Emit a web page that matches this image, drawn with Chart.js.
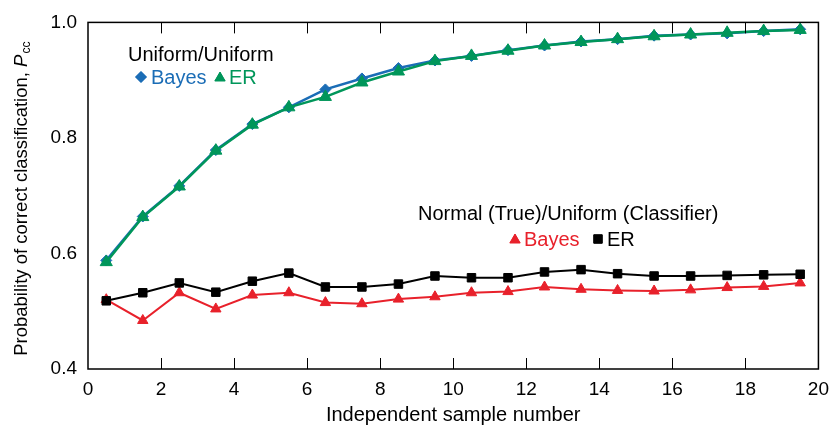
<!DOCTYPE html>
<html>
<head>
<meta charset="utf-8">
<script src="https://cdn.jsdelivr.net/npm/chart.js@4.4.0/dist/chart.umd.min.js"></script>
<style>
  html, body { margin: 0; padding: 0; background: #fff; }
  #wrap { width: 838px; height: 427px; }
</style>
</head>
<body>
<div id="wrap"><canvas id="pccChart" width="838" height="427"></canvas></div>
<script>
// sample positions and values
var samples = [0.5, 1.5, 2.5, 3.5, 4.5, 5.5, 6.5, 7.5, 8.5, 9.5, 10.5, 11.5, 12.5, 13.5, 14.5, 15.5, 16.5, 17.5, 18.5, 19.5];
var uniBayes = [0.588, 0.664, 0.717, 0.779, 0.824, 0.853, 0.884, 0.903, 0.921, 0.934, 0.942, 0.952, 0.960, 0.967, 0.971, 0.977, 0.979, 0.981, 0.985, 0.988];
var uniER = [0.585, 0.663, 0.716, 0.778, 0.823, 0.853, 0.871, 0.896, 0.915, 0.933, 0.942, 0.951, 0.960, 0.966, 0.971, 0.976, 0.979, 0.982, 0.985, 0.987];
var normBayes = [0.520, 0.484, 0.532, 0.504, 0.528, 0.532, 0.515, 0.513, 0.521, 0.525, 0.532, 0.534, 0.542, 0.538, 0.536, 0.535, 0.537, 0.541, 0.543, 0.549];
var normER = [0.518, 0.532, 0.549, 0.533, 0.552, 0.566, 0.542, 0.542, 0.547, 0.561, 0.558, 0.558, 0.568, 0.572, 0.565, 0.561, 0.561, 0.562, 0.563, 0.564];
var xTicks = [0, 2, 4, 6, 8, 10, 12, 14, 16, 18, 20];
var yTicks = [0.4, 0.6, 0.8, 1.0];

var BLUE = '#1b6db6', GREEN = '#00965a', RED = '#e8212b', BLACK = '#000';
var FONT = '"Liberation Sans", Arial, Helvetica, sans-serif';

function pts(ys) {
    return samples.map(function (x, i) { return {x: x, y: ys[i]}; });
}

// frame, inward ticks, y title and the two text legends
var decor = {
    id: 'decor',
    afterDraw: function (chart) {
        var ctx = chart.ctx, a = chart.chartArea;
        var xs = chart.scales.x;
        ctx.save();
        ctx.strokeStyle = '#000';
        ctx.lineWidth = 1.5;
        ctx.strokeRect(a.left, a.top, a.right - a.left, a.bottom - a.top);
        ctx.lineWidth = 1;
        xTicks.forEach(function (t) {
            if (t === 0 || t === 20) return;
            var px = Math.round(xs.getPixelForValue(t)) + 0.5;
            ctx.beginPath();
            ctx.moveTo(px, a.bottom); ctx.lineTo(px, a.bottom - 11);
            ctx.moveTo(px, a.top); ctx.lineTo(px, a.top + 11);
            ctx.stroke();
        });

        // y axis title with italic P and subscript cc
        ctx.fillStyle = '#000';
        ctx.translate(22, (a.top + a.bottom) / 2 + 3);
        ctx.rotate(-Math.PI / 2);
        ctx.textBaseline = 'middle';
        ctx.textAlign = 'left';
        var main = 'Probability of correct classification, ';
        ctx.font = '18.5px ' + FONT;
        var w1 = ctx.measureText(main).width;
        ctx.font = 'italic 18.5px ' + FONT;
        var w2 = ctx.measureText('P').width;
        ctx.font = '12px ' + FONT;
        var w3 = ctx.measureText('cc').width;
        var x0 = -(w1 + w2 + w3 + 1) / 2;
        ctx.font = '18.5px ' + FONT;
        ctx.fillText(main, x0, 0);
        ctx.font = 'italic 18.5px ' + FONT;
        ctx.fillText('P', x0 + w1, 0);
        ctx.font = '12px ' + FONT;
        ctx.fillText('cc', x0 + w1 + w2 + 1, 5);
        ctx.restore();

        // legends
        ctx.save();
        ctx.textBaseline = 'alphabetic';
        ctx.textAlign = 'left';
        ctx.font = '20px ' + FONT;
        ctx.fillStyle = '#000';
        ctx.fillText('Uniform/Uniform', 128, 61);
        ctx.fillStyle = BLUE; ctx.strokeStyle = BLUE;
        Chart.helpers.drawPoint(ctx, {pointStyle: 'rectRot', radius: 5.5, borderWidth: 1}, 141, 77);
        ctx.fill();
        ctx.fillStyle = BLUE;
        ctx.fillText('Bayes', 151, 84);
        ctx.fillStyle = GREEN; ctx.strokeStyle = GREEN;
        Chart.helpers.drawPoint(ctx, {pointStyle: 'triangle', radius: 6, borderWidth: 1}, 220, 78);
        ctx.fill();
        ctx.fillStyle = GREEN;
        ctx.fillText('ER', 229, 84);

        ctx.fillStyle = '#000';
        ctx.fillText('Normal (True)/Uniform (Classifier)', 418, 220);
        ctx.fillStyle = RED; ctx.strokeStyle = RED;
        Chart.helpers.drawPoint(ctx, {pointStyle: 'triangle', radius: 6, borderWidth: 1}, 515, 240);
        ctx.fill();
        ctx.fillStyle = RED;
        ctx.fillText('Bayes', 524, 246);
        ctx.fillStyle = BLACK; ctx.strokeStyle = BLACK;
        Chart.helpers.drawPoint(ctx, {pointStyle: 'rect', radius: 6, borderWidth: 1}, 598, 239);
        ctx.fill();
        ctx.fillStyle = BLACK;
        ctx.fillText('ER', 607, 246);
        ctx.restore();
    }
};

var ctx = document.getElementById('pccChart');
new Chart(ctx, {
    type: 'line',
    data: {
        datasets: [{
            label: 'Uniform ER',
            data: pts(uniER),
            borderColor: GREEN, backgroundColor: GREEN,
            borderWidth: 2.5, pointStyle: 'triangle', pointRadius: 7, pointBorderWidth: 1,
            order: 0
        }, {
            label: 'Uniform Bayes',
            data: pts(uniBayes),
            borderColor: BLUE, backgroundColor: BLUE,
            borderWidth: 2.5, pointStyle: 'rectRot', pointRadius: 5.5, pointBorderWidth: 1,
            order: 1
        }, {
            label: 'Normal ER',
            data: pts(normER),
            borderColor: BLACK, backgroundColor: BLACK,
            borderWidth: 2, pointStyle: 'rect', pointRadius: 6, pointBorderWidth: 1,
            order: 2
        }, {
            label: 'Normal Bayes',
            data: pts(normBayes),
            borderColor: RED, backgroundColor: RED,
            borderWidth: 2, pointStyle: 'triangle', pointRadius: 6, pointBorderWidth: 1,
            order: 3
        }]
    },
    options: {
        responsive: false,
        animation: false,
        events: [],
        layout: {padding: {top: 17, right: 11, left: 0, bottom: 0}},
        plugins: {legend: {display: false}, tooltip: {enabled: false}},
        scales: {
            x: {
                type: 'linear', min: 0, max: 20,
                afterBuildTicks: function (s) { s.ticks = xTicks.map(function (v) { return {value: v}; }); },
                grid: {display: false, drawTicks: false},
                border: {display: false},
                ticks: {padding: 9, color: '#000', font: {family: FONT, size: 19}, maxRotation: 0},
                title: {display: true, text: 'Independent sample number', color: '#000',
                    font: {family: FONT, size: 20}, padding: {top: 1, bottom: 0}},
                afterFit: function (s) { s.height = 58; }
            },
            y: {
                min: 0.4, max: 1.0,
                afterBuildTicks: function (s) { s.ticks = yTicks.map(function (v) { return {value: v}; }); },
                grid: {display: false, drawTicks: false},
                border: {display: false},
                ticks: {padding: 11, color: '#000', font: {family: FONT, size: 19},
                    callback: function (v) { return v.toFixed(1); }},
                afterFit: function (s) { s.width = 88; }
            }
        }
    },
    plugins: [decor]
});
</script>
</body>
</html>
